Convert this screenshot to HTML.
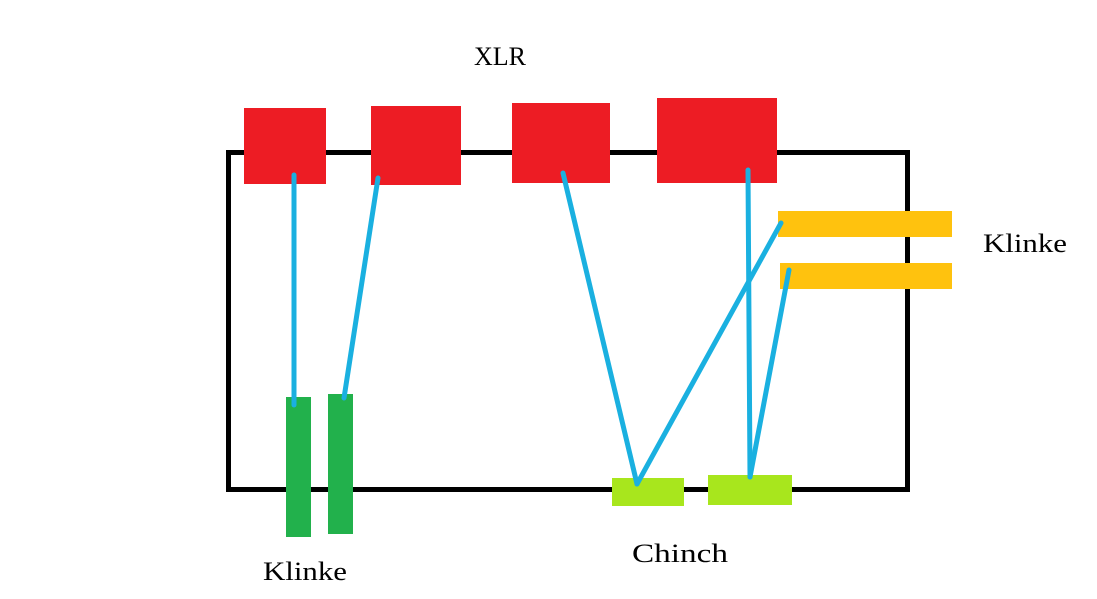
<!DOCTYPE html>
<html><head><style>
body{margin:0;background:#fff;}
svg{display:block}
text{font-family:"Liberation Serif",serif;font-size:26px;fill:#000}
</style></head><body>
<svg width="1097" height="599" viewBox="0 0 1097 599">
<rect x="228.5" y="152.5" width="679" height="337" fill="none" stroke="#000" stroke-width="5"/>
<rect x="244" y="108" width="82" height="76" fill="#ed1c24"/>
<rect x="371" y="106" width="90" height="79" fill="#ed1c24"/>
<rect x="512" y="103" width="98" height="80" fill="#ed1c24"/>
<rect x="657" y="98" width="120" height="85" fill="#ed1c24"/>
<rect x="778" y="211" width="174" height="26" fill="#ffc20e"/>
<rect x="780" y="263" width="172" height="26" fill="#ffc20e"/>
<rect x="286" y="397" width="25" height="140" fill="#22b14c"/>
<rect x="328" y="394" width="25" height="140" fill="#22b14c"/>
<rect x="612" y="478" width="72" height="28" fill="#a8e61d"/>
<rect x="708" y="475" width="84" height="30" fill="#a8e61d"/>
<g stroke="#1ab0e0" stroke-width="5" stroke-linecap="round" fill="none">
<line x1="294" y1="175" x2="294" y2="405"/>
<line x1="378" y1="178" x2="344" y2="398"/>
<line x1="563" y1="173" x2="637" y2="484"/>
<line x1="781" y1="223" x2="637" y2="484"/>
<line x1="748" y1="170" x2="750" y2="477"/>
<line x1="789" y1="270" x2="750" y2="477"/>
</g>
<text x="474" y="65">XLR</text>
<text x="983" y="252" textLength="84" lengthAdjust="spacingAndGlyphs">Klinke</text>
<text x="632" y="562" textLength="96" lengthAdjust="spacingAndGlyphs">Chinch</text>
<text x="263" y="580" textLength="84" lengthAdjust="spacingAndGlyphs">Klinke</text>
</svg>
</body></html>
